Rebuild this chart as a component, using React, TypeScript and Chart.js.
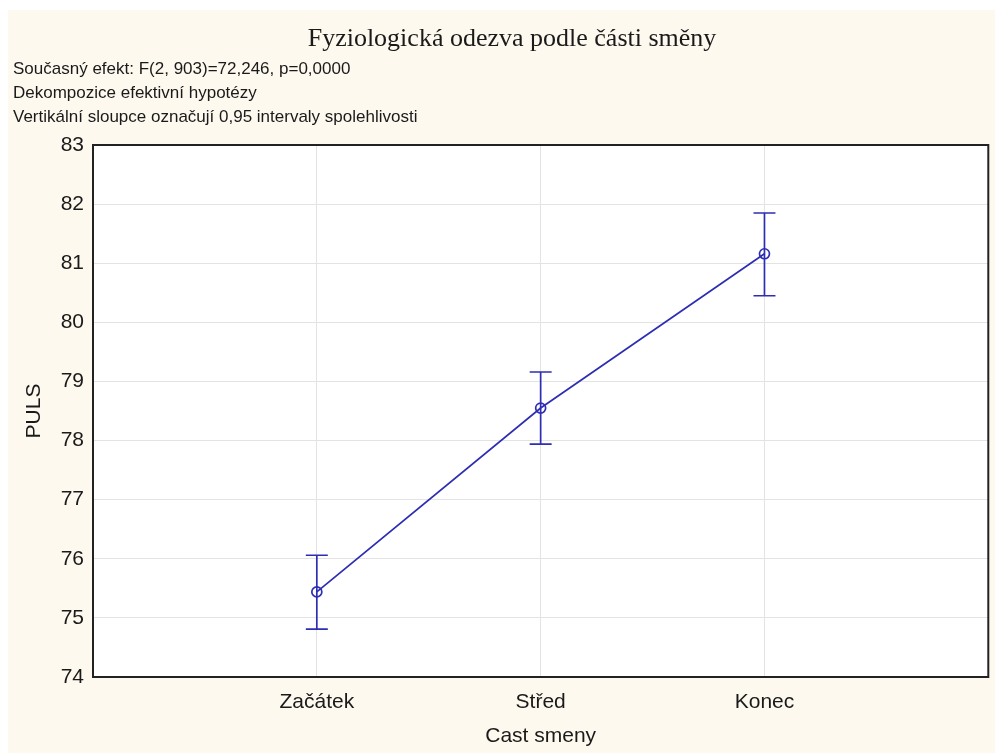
import { useEffect, useRef } from 'react';
import { Chart, registerables } from 'chart.js';

Chart.register(...registerables);

// Mean pulse per part of the shift, with 0.95 confidence limits
const categories = ['Začátek', 'Střed', 'Konec'];
const positions = [1, 2, 3];
const meanPuls = [75.44, 78.55, 81.16];
const upperCI = [76.06, 79.16, 81.85];
const lowerCI = [74.81, 77.94, 80.45];

const yMin = 74;
const yMax = 83;

const chartTitle = 'Fyziologická odezva podle části směny';
const infoLines = [
  'Současný efekt: F(2, 903)=72,246, p=0,0000',
  'Dekompozice efektivní hypotézy',
  'Vertikální sloupce označují 0,95 intervaly spolehlivosti',
];
const yTitle = 'PULS';
const xTitle = 'Cast smeny';

const BLUE = '#2e2eb4';
const PAGE_BG = '#fdf9ef';
const SANS = 'Arial, "Liberation Sans", sans-serif';
const SERIF = '"Times New Roman", "Liberation Serif", serif';

const decorPlugin = {
  id: 'decor',
  beforeDraw(chart: any) {
    const { ctx, chartArea: a, width, height } = chart;
    ctx.save();
    ctx.fillStyle = PAGE_BG;
    ctx.fillRect(0, 0, width, height);
    ctx.fillStyle = '#ffffff';
    ctx.fillRect(a.left, a.top, a.right - a.left, a.bottom - a.top);
    ctx.restore();
  },
  beforeDatasetsDraw(chart: any) {
    const { ctx, scales } = chart;
    const xs = scales.x;
    const ys = scales.y;
    ctx.save();
    ctx.strokeStyle = BLUE;
    ctx.lineWidth = 1.7;
    const cap = 11;
    positions.forEach((p, i) => {
      const x = xs.getPixelForValue(p);
      const yTop = ys.getPixelForValue(upperCI[i]);
      const yBot = ys.getPixelForValue(lowerCI[i]);
      ctx.beginPath();
      ctx.moveTo(x, yTop);
      ctx.lineTo(x, yBot);
      ctx.moveTo(x - cap, yTop);
      ctx.lineTo(x + cap, yTop);
      ctx.moveTo(x - cap, yBot);
      ctx.lineTo(x + cap, yBot);
      ctx.stroke();
    });
    ctx.restore();
  },
  afterDraw(chart: any) {
    const { ctx, chartArea: a } = chart;
    ctx.save();
    // frame around the plot
    ctx.strokeStyle = '#222222';
    ctx.lineWidth = 2;
    ctx.strokeRect(a.left, a.top, a.right - a.left, a.bottom - a.top);

    ctx.fillStyle = '#1a1a1a';
    ctx.textBaseline = 'middle';

    ctx.font = `26px ${SERIF}`;
    ctx.textAlign = 'center';
    ctx.fillText(chartTitle, 504, 29);

    ctx.font = `17px ${SANS}`;
    ctx.textAlign = 'left';
    infoLines.forEach((line, i) => ctx.fillText(line, 5, 59 + i * 24));

    ctx.font = `21px ${SANS}`;
    ctx.textAlign = 'center';
    ctx.fillText(xTitle, (a.left + a.right) / 2, 726);

    ctx.translate(26, (a.top + a.bottom) / 2);
    ctx.rotate(-Math.PI / 2);
    ctx.fillText(yTitle, 0, 0);
    ctx.restore();
  },
};

export default function App() {
  const canvasRef = useRef<HTMLCanvasElement | null>(null);

  useEffect(() => {
    if (!canvasRef.current) return;
    const chart = new Chart(canvasRef.current, {
      type: 'line',
      data: {
        datasets: [
          {
            data: positions.map((p, i) => ({ x: p, y: meanPuls[i] })),
            borderColor: BLUE,
            borderWidth: 1.7,
            pointRadius: 5,
            pointBorderWidth: 1.7,
            pointBorderColor: BLUE,
            pointBackgroundColor: 'rgba(0,0,0,0)',
            fill: false,
            tension: 0,
          },
        ],
      },
      options: {
        animation: false,
        responsive: true,
        maintainAspectRatio: false,
        layout: { padding: { left: 0, right: 3, top: 135, bottom: 0 } },
        plugins: {
          legend: { display: false },
          title: { display: false },
          tooltip: { enabled: false },
        },
        scales: {
          x: {
            type: 'linear',
            min: 0,
            max: 4,
            afterFit: (s: any) => {
              s.height = 76;
              s.paddingLeft = 0;
              s.paddingRight = 0;
            },
            border: { display: false },
            grid: { color: '#e3e3e3', lineWidth: 1, drawTicks: false },
            ticks: {
              stepSize: 1,
              padding: 13,
              color: '#1a1a1a',
              font: { size: 21, family: SANS },
              callback: (v: any) => categories[positions.indexOf(Number(v))] ?? '',
            },
          },
          y: {
            min: yMin,
            max: yMax,
            afterFit: (s: any) => {
              s.width = 85;
            },
            border: { display: false },
            grid: { color: '#e3e3e3', lineWidth: 1, drawTicks: false },
            ticks: {
              stepSize: 1,
              padding: 9,
              color: '#1a1a1a',
              font: { size: 21, family: SANS },
            },
          },
        },
      },
      plugins: [decorPlugin],
    });
    return () => chart.destroy();
  }, []);

  return (
    <div style={{ position: 'fixed', left: 8, top: 10, width: 987, height: 743 }}>
      <canvas ref={canvasRef} />
    </div>
  );
}
